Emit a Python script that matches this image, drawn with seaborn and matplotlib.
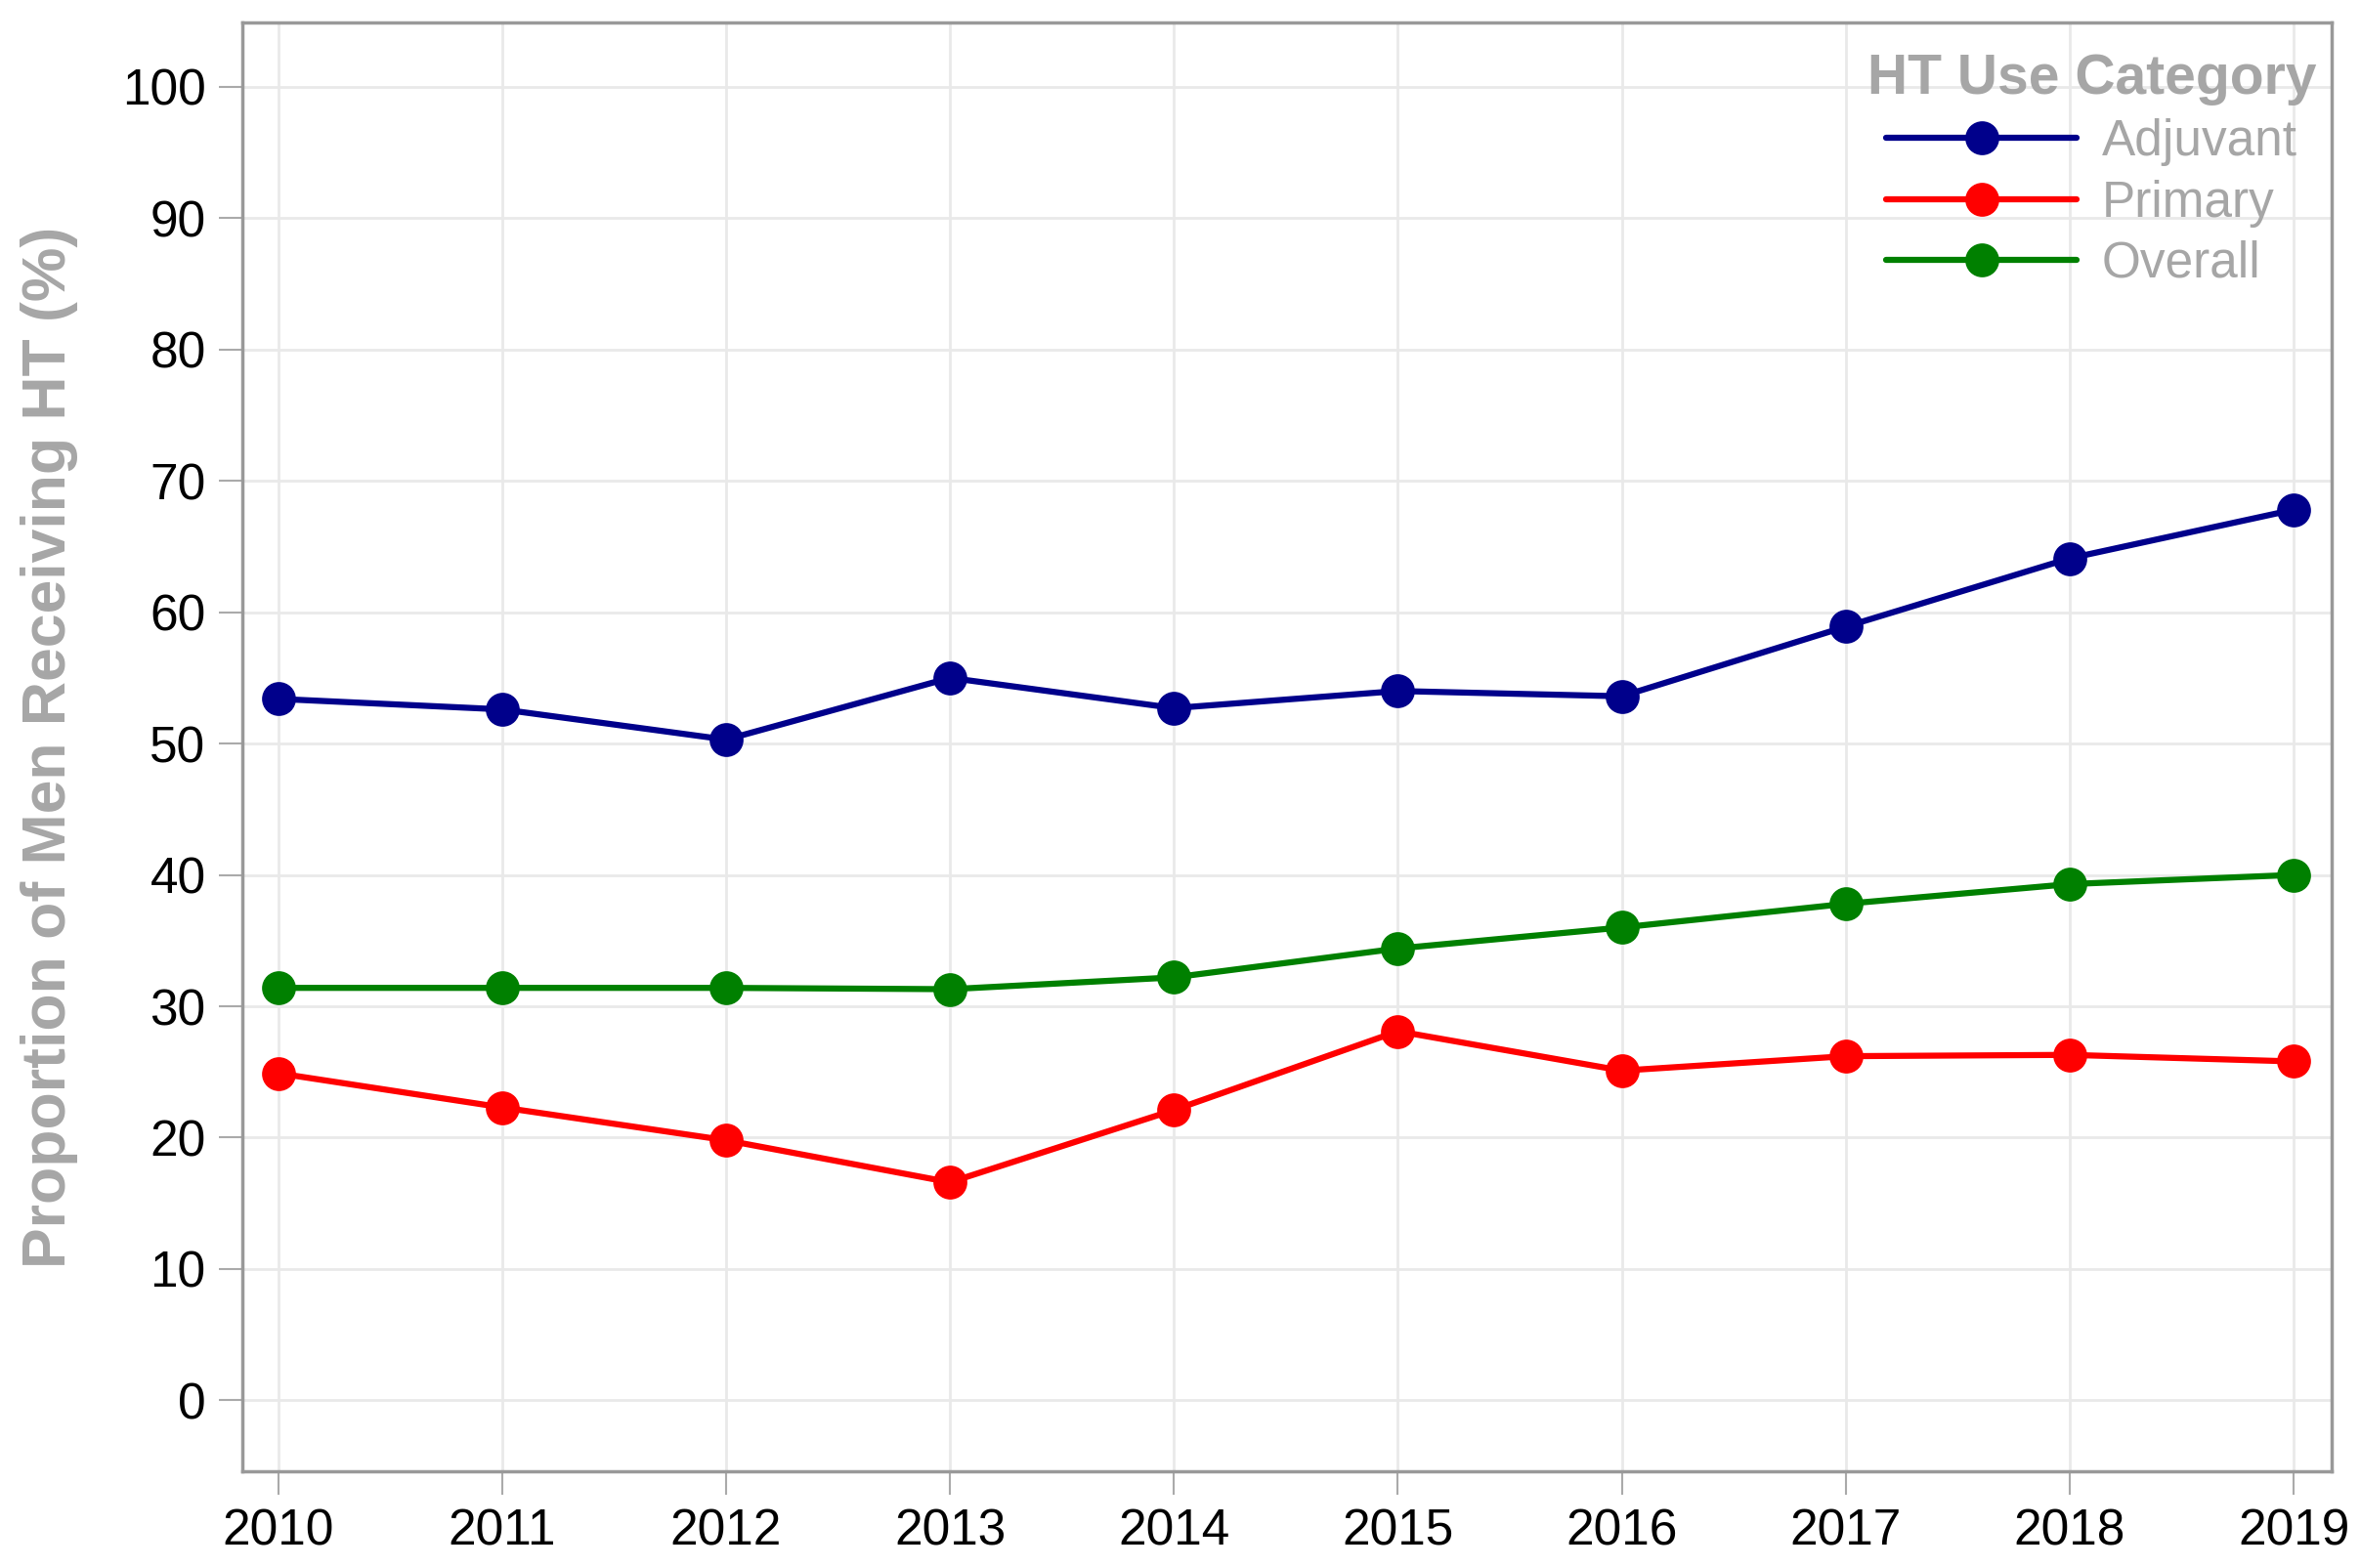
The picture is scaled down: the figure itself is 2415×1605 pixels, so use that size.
import matplotlib
matplotlib.use("Agg")
import matplotlib.pyplot as plt
import seaborn as sns
import pandas as pd

years = [2010, 2011, 2012, 2013, 2014, 2015, 2016, 2017, 2018, 2019]
adjuvant = [53.4, 52.6, 50.3, 55.0, 52.7, 54.0, 53.6, 58.9, 64.1, 67.8]
primary = [24.9, 22.3, 19.8, 16.6, 22.1, 28.1, 25.1, 26.2, 26.3, 25.8]
overall = [31.4, 31.4, 31.4, 31.3, 32.2, 34.4, 36.0, 37.8, 39.3, 40.0]
categories = ["Adjuvant", "Primary", "Overall"]
colors = ["#00008B", "#FF0000", "#008000"]
yticks = [0, 10, 20, 30, 40, 50, 60, 70, 80, 90, 100]

df = pd.DataFrame({
    "Year": years * 3,
    "Value": adjuvant + primary + overall,
    "Category": [c for c in categories for _ in years],
})

sns.set_style("white")
plt.rcParams["font.family"] = ["Liberation Sans", "DejaVu Sans"]

fig = plt.figure(figsize=(24.15, 16.05), dpi=100)
ax = fig.add_axes([0.1027, 0.0617, 0.8853, 0.924])

sns.lineplot(data=df, x="Year", y="Value", hue="Category", hue_order=categories,
             palette=dict(zip(categories, colors)), marker="o", markersize=25,
             markeredgewidth=0, linewidth=4.5, ax=ax)

ax.set_xlim(2009.84, 2019.17)
ax.set_ylim(-5.4, 104.9)
ax.set_xticks(years)
ax.set_xticklabels([str(y) for y in years])
ax.set_yticks(yticks)
ax.set_yticklabels([str(v) for v in yticks])
ax.grid(True, color="#e9e9e9", linewidth=2)
ax.set_axisbelow(True)
for s in ax.spines.values():
    s.set_color("#999999")
    s.set_linewidth(2.5)
ax.tick_params(axis="both", which="both", direction="out", length=17, width=1.5,
               color="#aaaaaa", labelsize=37, labelcolor="black", pad=10)
ax.tick_params(left=True, bottom=True)
ax.set_xlabel("")
ax.set_ylabel("Proportion of Men Receiving HT (%)", fontsize=45, fontweight="bold",
              color="#a6a6a6", labelpad=32)

leg = ax.legend(title="HT Use Category", loc="upper right", frameon=False,
                fontsize=37, title_fontsize=41, handlelength=3.8, borderaxespad=0.2,
                labelspacing=0.26, handletextpad=0.5, bbox_to_anchor=(1.007, 1.0))
leg.get_title().set_fontweight("bold")
leg.get_title().set_color("#a6a6a6")
for t in leg.get_texts():
    t.set_color("#a6a6a6")

fig.savefig("out.png", dpi=100)
